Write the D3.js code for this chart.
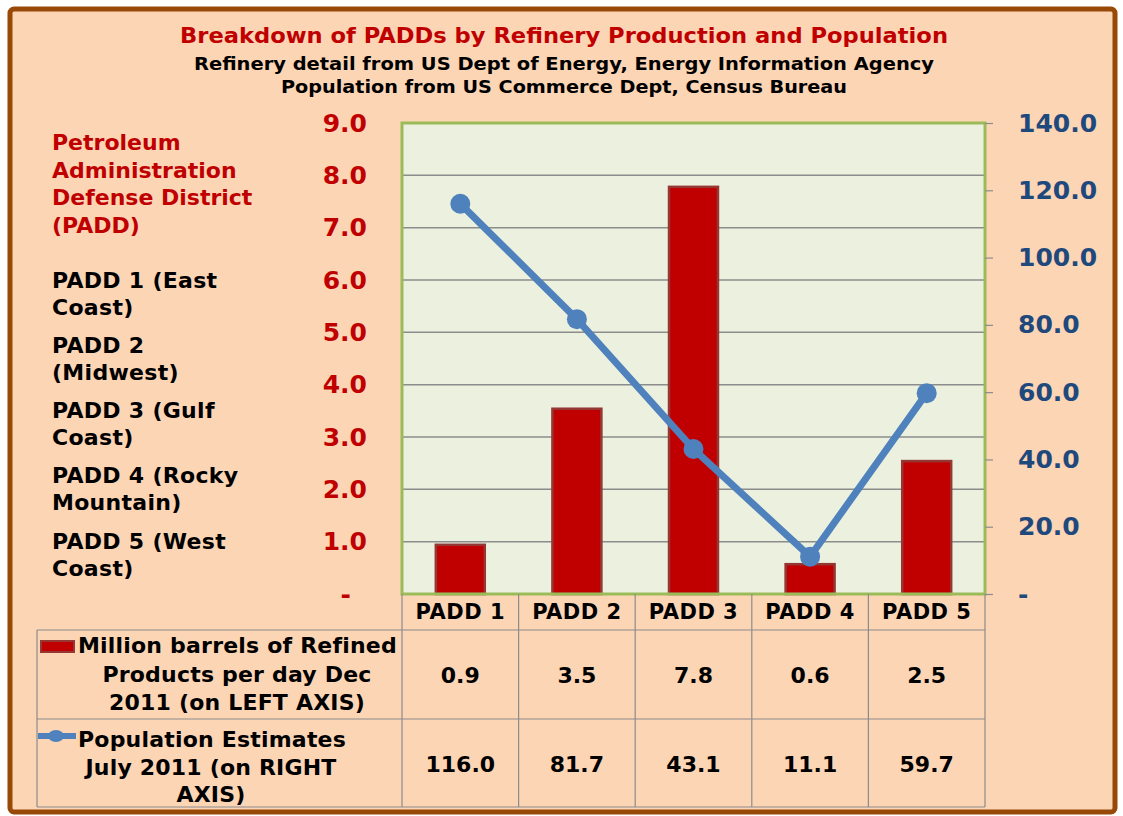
<!DOCTYPE html>
<html><head><meta charset="utf-8">
<script src="https://cdn.jsdelivr.net/npm/d3@7"></script>
<style>body{margin:0;background:#fff}svg{display:block}text{font-family:"DejaVu Sans",Verdana,sans-serif;font-weight:bold}</style>
</head><body><svg id="c" width="1123" height="816"></svg>
<script>
const categories = ["PADD 1","PADD 2","PADD 3","PADD 4","PADD 5"];
const refined = [0.94, 3.54, 7.78, 0.57, 2.54];
const population = [116.0, 81.7, 43.1, 11.1, 59.7];
const leftTicks = [0,1,2,3,4,5,6,7,8,9];
const rightTicks = [0,20,40,60,80,100,120,140];
const titleLines = ["Breakdown of PADDs by Refinery Production and Population",
  "Refinery detail from US Dept of Energy, Energy Information Agency",
  "Population from US Commerce Dept, Census Bureau"];
const sideRed = ["Petroleum","Administration","Defense District","(PADD)"];
const sideBlack = [["PADD 1 (East","Coast)"],["PADD 2","(Midwest)"],["PADD 3 (Gulf","Coast)"],["PADD 4 (Rocky","Mountain)"],["PADD 5 (West","Coast)"]];
const seriesNames = [["Million barrels of Refined","Products per day Dec","2011 (on LEFT AXIS)"],
  ["Population Estimates","July 2011 (on RIGHT","AXIS)"]];

const svg = d3.select("#c");
const P = {l:402, r:985, t:123, b:594};
const x = d3.scaleBand().domain(categories).range([P.l, P.r]);
const yL = d3.scaleLinear().domain([0,9]).range([P.b, P.t]);
const yR = d3.scaleLinear().domain([0,140]).range([P.b, P.t]);
const red = "#c00000", blue = "#4f81bd", navy = "#1f497d";

// background
svg.append("rect").attr("x",10).attr("y",9).attr("width",1105).attr("height",803)
  .attr("rx",4).attr("fill","#fcd5b5").attr("stroke","#984807").attr("stroke-width",5);

// titles
const tl = [ {y:43, size:22, color:red, len:768}, {y:69.5, size:17, color:"#000", len:740}, {y:92.5, size:17, color:"#000", len:566} ];
titleLines.forEach((t,i)=>{
  svg.append("text").attr("x",564).attr("y",tl[i].y).attr("text-anchor","middle")
    .attr("font-size",tl[i].size).attr("fill",tl[i].color)
    .attr("textLength",tl[i].len).attr("lengthAdjust","spacingAndGlyphs").text(t);
});

// side text
const redY = [150,178,205,233];
sideRed.forEach((t,i)=>svg.append("text").attr("x",52).attr("y",redY[i]).attr("font-size",22).attr("fill",red).text(t));
const blackY = [[288,315],[353,380],[418,445],[483,510],[549,576]];
sideBlack.forEach((pair,i)=>pair.forEach((t,j)=>svg.append("text").attr("x",52).attr("y",blackY[i][j]).attr("font-size",22).attr("letter-spacing",0.3).attr("fill","#000").text(t)));

// plot area
svg.append("rect").attr("x",P.l).attr("y",P.t).attr("width",P.r-P.l).attr("height",P.b-P.t).attr("fill","#ebf1de");
svg.append("g").selectAll("line").data(leftTicks.filter(d=>d>0&&d<9)).join("line")
  .attr("x1",P.l).attr("x2",P.r).attr("y1",d=>yL(d)).attr("y2",d=>yL(d))
  .attr("stroke","#8c8c8c").attr("stroke-width",1.5);

// bars
const bw = x.bandwidth()*0.42;
svg.append("g").selectAll("rect").data(categories).join("rect")
  .attr("x",(d)=>x(d)+x.bandwidth()/2-bw/2).attr("width",bw)
  .attr("y",(d,i)=>yL(refined[i])).attr("height",(d,i)=>yL(0)-yL(refined[i]))
  .attr("fill",red).attr("stroke","#953735").attr("stroke-width",2.5);

// plot border
svg.append("rect").attr("x",P.l).attr("y",P.t).attr("width",P.r-P.l).attr("height",P.b-P.t)
  .attr("fill","none").attr("stroke","#9bbb59").attr("stroke-width",3);

// line
const pts = categories.map((c,i)=>[x(c)+x.bandwidth()/2, yR(population[i])]);
svg.append("path").attr("d",d3.line()(pts)).attr("fill","none").attr("stroke",blue).attr("stroke-width",7);
svg.append("g").selectAll("circle").data(pts).join("circle")
  .attr("cx",d=>d[0]).attr("cy",d=>d[1]).attr("r",10).attr("fill",blue);

// axes
const fmt = d => d===0 ? "-" : d.toFixed(1);
const gl = svg.append("g").attr("transform",`translate(${P.l},0)`)
  .call(d3.axisLeft(yL).tickValues(leftTicks).tickFormat(fmt).tickSize(0).tickPadding(35));
gl.select(".domain").remove();
gl.selectAll("text").attr("font-size",25).attr("fill",red).attr("font-family","DejaVu Sans").attr("font-weight","bold");
gl.selectAll("text").filter(d=>d===0).attr("dx",-16);

const gr = svg.append("g").attr("transform",`translate(${P.r},0)`)
  .call(d3.axisRight(yR).tickValues(rightTicks).tickFormat(fmt).tickSize(8).tickPadding(25));
gr.select(".domain").remove();
gr.selectAll("line").attr("stroke","#8c8c8c").attr("stroke-width",1.2);
gr.selectAll("text").attr("font-size",25).attr("fill",navy).attr("font-family","DejaVu Sans").attr("font-weight","bold");

// data table
const rowTop = 630, rowMid = 719, rowBot = 807, tblL = 37;
const tg = svg.append("g").attr("stroke","#8c8c8c").attr("stroke-width",1.2);
[rowTop,rowMid,rowBot].forEach(y=>tg.append("line").attr("x1",tblL).attr("x2",P.r).attr("y1",y).attr("y2",y));
tg.append("line").attr("x1",tblL).attr("x2",tblL).attr("y1",rowTop).attr("y2",rowBot);
const edges = categories.map(c=>x(c)).concat([P.r]);
edges.forEach(ex=>tg.append("line").attr("x1",ex).attr("x2",ex).attr("y1",P.b).attr("y2",rowBot));

svg.append("g").selectAll("text").data(categories).join("text")
  .attr("x",d=>x(d)+x.bandwidth()/2).attr("y",619).attr("text-anchor","middle").attr("font-size",21).attr("letter-spacing",0.5).text(d=>d);
svg.append("g").selectAll("text").data(refined).join("text")
  .attr("x",(d,i)=>x(categories[i])+x.bandwidth()/2).attr("y",683).attr("text-anchor","middle").attr("font-size",22).text(d=>d.toFixed(1));
svg.append("g").selectAll("text").data(population).join("text")
  .attr("x",(d,i)=>x(categories[i])+x.bandwidth()/2).attr("y",772).attr("text-anchor","middle").attr("font-size",22).text(d=>d.toFixed(1));

// series names
const nameY = [[653,682,710],[747,775,802]];
const nameCx = [237,211];
seriesNames.forEach((lines,i)=>lines.forEach((t,j)=>{
  const tx = svg.append("text").attr("y",nameY[i][j]).attr("font-size",22).attr("letter-spacing",0.2).text(t);
  if(j===0){ tx.attr("x",78); } else { tx.attr("x",nameCx[i]).attr("text-anchor","middle"); }
}));
// legend keys
svg.append("rect").attr("x",41).attr("y",641).attr("width",33).attr("height",11).attr("fill",red).attr("stroke","#953735").attr("stroke-width",2);
svg.append("line").attr("x1",38).attr("x2",76).attr("y1",736).attr("y2",736).attr("stroke",blue).attr("stroke-width",6);
svg.append("ellipse").attr("cx",56).attr("cy",736).attr("rx",8).attr("ry",6).attr("fill",blue);
</script></body></html>
